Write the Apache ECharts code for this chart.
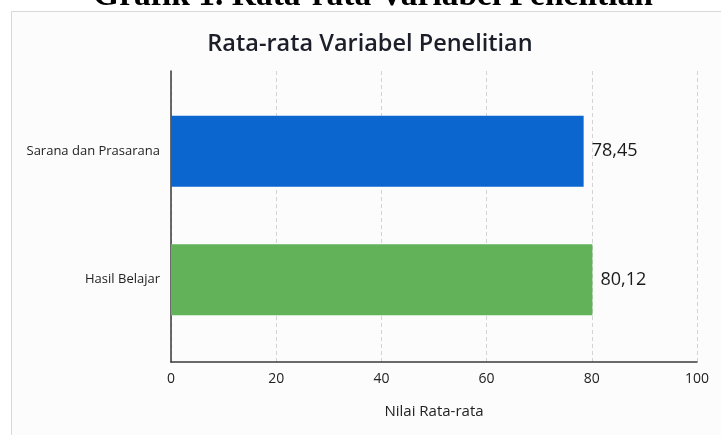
<!DOCTYPE html>
<html>
<head>
<meta charset="utf-8">
<script src="https://cdn.jsdelivr.net/npm/echarts@6/dist/echarts.min.js"></script>
<style>
html,body{margin:0;padding:0;background:#fff;}
#c{width:721px;height:435px;}
</style>
</head>
<body>
<div id="c"></div>
<script>
const categories = ['Sarana dan Prasarana', 'Hasil Belajar'];
const values = [78.45, 80.12];
const valueLabels = ['78,45', '80,12'];
const barColors = ['#0b66d0', '#62b25a'];
const xTicks = [0, 20, 40, 60, 80, 100];

const chart = echarts.init(document.getElementById('c'));
const font = '"Open Sans", "Noto Sans", sans-serif';

chart.setOption({
  animation: false,
  backgroundColor: '#ffffff',
  graphic: [
    { type: 'rect', z: -10, shape: { x: 11.5, y: 11.5, width: 720, height: 430 },
      style: { fill: '#fcfcfc', stroke: '#d8d8d8', lineWidth: 1 } },
    { type: 'text', x: 373, y: 13, z: 10,
      style: { text: 'Grafik 1. Rata-rata Variabel Penelitian', font: 'bold 33.5px "Liberation Serif", serif', fill: '#000',
        textAlign: 'center', textVerticalAlign: 'bottom' } }
  ],
  title: {
    text: 'Rata-rata Variabel Penelitian',
    left: 365, textAlign: 'center', top: 27,
    textStyle: { fontFamily: font, fontSize: 23.5, fontWeight: 600, color: '#1c1f2a' }
  },
  grid: [
    { left: 171, right: 24, top: 71, bottom: 73 },
    { left: 171, right: 24, top: 87, bottom: 91 }
  ],
  xAxis: [
    { gridIndex: 0, type: 'value', min: 0, max: 100, interval: 20,
      axisLine: { show: true, lineStyle: { color: '#3a3a3a', width: 1.5 } },
      axisTick: { show: false },
      axisLabel: { fontFamily: font, fontSize: 14, color: '#222', margin: 10,
        formatter: v => xTicks.includes(v) ? String(v) : '' },
      splitLine: { show: true, lineStyle: { color: '#d4d4d4', type: [4, 3], width: 1 } },
      name: 'Nilai Rata-rata', nameLocation: 'middle', nameGap: 42,
      nameTextStyle: { fontFamily: font, fontSize: 15, color: '#222' } },
    { gridIndex: 1, type: 'value', min: 0, max: 100, show: false }
  ],
  yAxis: [
    { gridIndex: 0, type: 'category', data: categories, inverse: true,
      axisLine: { show: true, lineStyle: { color: '#3a3a3a', width: 1.5 } },
      axisTick: { show: false }, axisLabel: { show: false }, splitLine: { show: false } },
    { gridIndex: 1, type: 'category', data: categories, inverse: true,
      axisLine: { show: false }, axisTick: { show: false },
      axisLabel: { fontFamily: font, fontSize: 13, color: '#222', margin: 11 } }
  ],
  series: [{
    type: 'bar', xAxisIndex: 1, yAxisIndex: 1, barWidth: 71,
    data: values.map((v, i) => ({ value: v, itemStyle: { color: barColors[i] } })),
    label: { show: true, position: 'right', distance: 8,
      formatter: p => valueLabels[p.dataIndex],
      fontFamily: font, fontSize: 18, color: '#1a1a1a' }
  }]
});
</script>
</body>
</html>
